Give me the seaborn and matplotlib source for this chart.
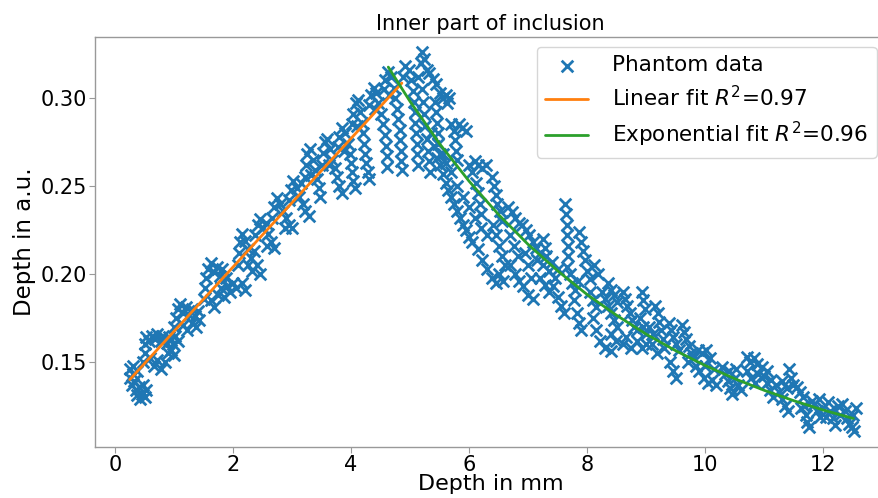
import numpy as np
import pandas as pd
import matplotlib
matplotlib.use("Agg")
import matplotlib.pyplot as plt
import seaborn as sns

rise_depth = [
    0.25, 0.26, 0.28, 0.30, 0.33, 0.35, 0.38, 0.40, 0.43, 0.46, 0.48, 0.50, 0.53, 0.30, 0.38,
    0.48, 0.50, 0.50, 0.52, 0.58, 0.62, 0.68, 0.72, 0.78, 0.82, 0.88, 0.92, 0.98, 1.02, 1.06,
    0.60, 0.66, 0.72, 0.78, 0.84, 0.90, 0.95, 1.00,
    1.00, 1.04, 1.06, 1.10, 1.15, 1.20, 1.25, 1.30, 1.35, 1.40, 1.15, 1.22, 1.30, 1.38, 1.43,
    1.50, 1.52, 1.55, 1.58, 1.62, 1.68, 1.72, 1.78, 1.82, 1.88, 1.62, 1.68, 1.75, 1.80, 1.85,
    1.90, 1.95, 2.00, 2.05, 2.15, 2.20,
    2.08, 2.10, 2.12, 2.15, 2.20, 2.25, 2.30, 2.35, 2.40, 2.45, 2.25, 2.32,
    2.38, 2.42, 2.45, 2.50, 2.55, 2.60, 2.65, 2.70, 2.58,
    2.66, 2.70, 2.74, 2.80, 2.85, 2.90, 2.95, 3.00, 2.88,
    2.95, 2.98, 3.02, 3.08, 3.12, 3.18, 3.22, 3.28, 3.15,
    3.22, 3.24, 3.26, 3.30, 3.35, 3.38, 3.42, 3.45, 3.48, 3.32,
    3.50, 3.52, 3.55, 3.60, 3.65, 3.68, 3.72, 3.76, 3.80, 3.84, 3.62,
    3.78, 3.80, 3.84, 3.90, 3.94, 3.98, 4.00, 4.02, 4.04, 4.06, 3.88,
    4.02, 4.04, 4.08, 4.12, 4.15, 4.18, 4.20, 4.22, 4.24, 4.26, 4.28, 4.30, 4.10,
    4.30, 4.34, 4.38, 4.42, 4.45, 4.50, 4.54, 4.57, 4.59, 4.60, 4.61, 4.40,
    4.55, 4.58, 4.62, 4.68, 4.72, 4.75, 4.78, 4.80, 4.82, 4.83, 4.84, 4.85, 4.86, 4.65,
]
rise_value = [
    0.146, 0.141, 0.137, 0.143, 0.139, 0.134, 0.131, 0.136, 0.129, 0.132, 0.137, 0.130, 0.134, 0.148, 0.145,
    0.150, 0.155, 0.160, 0.164, 0.162, 0.165, 0.163, 0.166, 0.162, 0.165, 0.161, 0.164, 0.160, 0.165, 0.162,
    0.152, 0.148, 0.151, 0.146, 0.150, 0.155, 0.157, 0.154,
    0.170, 0.175, 0.180, 0.183, 0.178, 0.181, 0.177, 0.180, 0.176, 0.179, 0.171, 0.168, 0.172, 0.170, 0.174,
    0.186, 0.192, 0.198, 0.203, 0.206, 0.201, 0.204, 0.199, 0.203, 0.198, 0.185, 0.181, 0.188, 0.192, 0.187,
    0.193, 0.190, 0.195, 0.192, 0.195, 0.191,
    0.205, 0.212, 0.218, 0.223, 0.219, 0.214, 0.209, 0.213, 0.205, 0.200, 0.205, 0.202,
    0.222, 0.228, 0.231, 0.226, 0.229, 0.223, 0.218, 0.215, 0.216,
    0.232, 0.238, 0.243, 0.240, 0.236, 0.232, 0.228, 0.226, 0.226,
    0.242, 0.248, 0.253, 0.249, 0.244, 0.240, 0.236, 0.233, 0.252,
    0.255, 0.262, 0.268, 0.271, 0.265, 0.259, 0.254, 0.249, 0.244, 0.256,
    0.262, 0.269, 0.275, 0.277, 0.271, 0.265, 0.260, 0.255, 0.250, 0.246, 0.262,
    0.272, 0.278, 0.283, 0.280, 0.274, 0.268, 0.263, 0.258, 0.253, 0.249, 0.270,
    0.285, 0.291, 0.297, 0.299, 0.292, 0.286, 0.280, 0.274, 0.268, 0.263, 0.258, 0.254, 0.284,
    0.296, 0.302, 0.306, 0.303, 0.297, 0.291, 0.285, 0.279, 0.273, 0.267, 0.261, 0.294,
    0.305, 0.310, 0.315, 0.312, 0.306, 0.300, 0.294, 0.288, 0.282, 0.276, 0.270, 0.264, 0.259, 0.302,
]

fall_depth = [
    4.88, 4.92, 4.98, 5.02, 5.05, 5.07, 5.08, 5.09, 5.10, 5.11, 5.12, 5.13, 5.14, 5.18, 5.20, 5.24, 5.28,
    5.20, 5.22, 5.24, 5.26, 5.28, 5.30, 5.32, 5.34,
    5.32, 5.38, 5.44, 5.50, 5.55, 5.60, 5.66, 5.62,
    5.42, 5.44, 5.46, 5.47, 5.48, 5.50,
    5.36, 5.40, 5.45, 5.50, 5.55, 5.60, 5.65, 5.70, 5.75, 5.80, 5.85, 5.90, 5.95, 6.00, 6.05,
    5.55, 5.60, 5.70, 5.80, 5.90, 6.00, 6.10, 6.20, 6.30, 6.15, 6.22, 6.30, 6.38, 6.45,
    5.70, 5.74, 5.76, 5.78, 5.80, 5.82, 5.88, 5.95,
    6.00, 6.05, 6.10, 6.15, 6.22, 6.28, 6.12, 6.15, 6.18, 6.20,
    6.38, 6.42, 6.45, 6.48, 6.52, 6.55, 6.40, 6.45, 6.50, 6.55, 6.60, 6.50, 6.58,
    6.66, 6.72, 6.78, 6.84, 6.70, 6.76, 6.82, 6.70, 6.78, 6.85,
    6.90, 6.96, 7.02, 7.08, 7.14, 6.95, 7.00, 7.05, 6.92, 7.00, 7.08,
    7.15, 7.20, 7.25, 7.30, 7.35, 7.40, 7.45, 7.50, 7.20, 7.28, 7.35, 7.42, 7.50, 7.55, 7.60,
    7.25, 7.28,
    7.62, 7.64, 7.65, 7.66, 7.67, 7.68, 7.66,
    7.70, 7.75, 7.80, 7.85, 7.78, 7.82, 7.86, 7.90,
    7.86, 7.90, 7.93, 7.97, 8.00, 8.04,
    8.05, 8.10, 8.15, 8.10, 8.15, 8.22, 8.30, 8.40, 8.12, 8.18,
    8.25, 8.30, 8.35, 8.40, 8.45, 8.50, 8.35, 8.40, 8.45, 8.50, 8.40, 8.48,
    8.60, 8.64, 8.68, 8.72, 8.76, 8.80, 8.60, 8.66, 8.75, 8.85, 8.92, 9.00,
    8.92, 8.95, 8.98, 8.90, 8.95, 9.00, 8.85,
    9.15, 9.20, 9.22, 9.25, 9.28, 9.30, 9.10, 9.18, 9.05, 9.12,
    9.38, 9.42, 9.46, 9.50, 9.55, 9.40, 9.45, 9.50,
    9.60, 9.64, 9.68, 9.72, 9.76, 9.80, 9.70, 9.84,
    9.88, 9.95, 10.02, 10.08, 9.90, 9.98, 10.05, 10.12, 10.18, 10.00, 10.15,
    10.28, 10.33, 10.38, 10.42, 10.46, 10.50, 10.55, 10.60, 10.40, 10.52,
    10.70, 10.76, 10.82, 10.88, 10.70, 10.78, 10.85, 10.90,
    10.96, 11.00, 11.05, 11.10, 11.15, 11.05, 11.12,
    11.20, 11.25, 11.30, 11.35, 11.40, 11.30, 11.38, 11.42, 11.45, 11.48,
    11.55, 11.60, 11.65, 11.68, 11.70, 11.72, 11.75, 11.62, 11.80,
    11.85, 11.90, 11.95, 12.00, 12.05, 11.92,
    12.08, 12.12, 12.16, 12.20, 12.25, 12.28,
    12.32, 12.36, 12.40, 12.44, 12.48, 12.52, 12.55, 12.50,
]
fall_value = [
    0.312, 0.318, 0.316, 0.310, 0.304, 0.298, 0.292, 0.286, 0.280, 0.274, 0.268, 0.262, 0.312, 0.320, 0.326, 0.322, 0.316,
    0.305, 0.298, 0.291, 0.284, 0.277, 0.270, 0.264, 0.258,
    0.314, 0.311, 0.308, 0.303, 0.300, 0.302, 0.300, 0.297,
    0.298, 0.292, 0.286, 0.280, 0.274, 0.268,
    0.280, 0.273, 0.266, 0.262, 0.257, 0.252, 0.248, 0.244, 0.240, 0.236, 0.232, 0.228, 0.225, 0.221, 0.218,
    0.268, 0.263, 0.258, 0.250, 0.244, 0.238, 0.232, 0.226, 0.222, 0.214, 0.208, 0.203, 0.198, 0.195,
    0.285, 0.281, 0.276, 0.270, 0.265, 0.285, 0.283, 0.281,
    0.262, 0.258, 0.264, 0.262, 0.260, 0.262, 0.252, 0.246, 0.240, 0.234,
    0.255, 0.250, 0.245, 0.240, 0.236, 0.230, 0.228, 0.222, 0.216, 0.210, 0.205, 0.200, 0.196,
    0.238, 0.235, 0.232, 0.229, 0.222, 0.216, 0.210, 0.205, 0.200, 0.196,
    0.228, 0.225, 0.222, 0.218, 0.215, 0.212, 0.205, 0.198, 0.193, 0.188, 0.186,
    0.208, 0.212, 0.205, 0.210, 0.202, 0.207, 0.198, 0.203, 0.198, 0.194, 0.190, 0.193, 0.187, 0.182, 0.178,
    0.220, 0.215,
    0.240, 0.234, 0.228, 0.222, 0.216, 0.210, 0.204,
    0.200, 0.195, 0.191, 0.196, 0.185, 0.178, 0.172, 0.168,
    0.224, 0.218, 0.213, 0.208, 0.202, 0.197,
    0.190, 0.185, 0.181, 0.175, 0.168, 0.162, 0.158, 0.156, 0.205, 0.200,
    0.190, 0.186, 0.182, 0.178, 0.174, 0.170, 0.195, 0.191, 0.188, 0.184, 0.166, 0.162,
    0.190, 0.186, 0.182, 0.178, 0.174, 0.170, 0.160, 0.164, 0.158, 0.162, 0.158, 0.160,
    0.190, 0.185, 0.180, 0.175, 0.170, 0.166, 0.168,
    0.182, 0.178, 0.173, 0.168, 0.163, 0.158, 0.160, 0.155, 0.170, 0.166,
    0.172, 0.168, 0.164, 0.160, 0.157, 0.150, 0.145, 0.141,
    0.171, 0.167, 0.163, 0.159, 0.155, 0.152, 0.150, 0.148,
    0.157, 0.155, 0.157, 0.152, 0.145, 0.141, 0.138, 0.140, 0.137, 0.148, 0.146,
    0.147, 0.143, 0.139, 0.135, 0.132, 0.141, 0.137, 0.134, 0.145, 0.146,
    0.153, 0.150, 0.152, 0.149, 0.145, 0.141, 0.138, 0.143,
    0.147, 0.142, 0.138, 0.134, 0.130, 0.145, 0.140,
    0.137, 0.133, 0.129, 0.125, 0.122, 0.139, 0.135, 0.146, 0.141, 0.137,
    0.136, 0.133, 0.130, 0.125, 0.120, 0.116, 0.113, 0.124, 0.128,
    0.126, 0.122, 0.119, 0.124, 0.119, 0.129,
    0.127, 0.122, 0.118, 0.114, 0.125, 0.120,
    0.126, 0.122, 0.118, 0.115, 0.113, 0.111, 0.124, 0.120,
]

# fitted curves as they appear in the reference
linear_depth = [0.25, 2.5, 4.86]
linear_value = [0.140, 0.2223, 0.3085]
exp_depth = [4.63, 5.0, 5.5, 6.0, 6.5, 7.0, 7.5, 8.0, 8.5, 9.0, 9.5, 10.0, 10.5, 11.0, 11.5, 12.0, 12.51]
exp_value = [0.3176, 0.298, 0.274, 0.2527, 0.2337, 0.2168, 0.2018, 0.1883, 0.1765, 0.1658,
             0.1564, 0.148, 0.1405, 0.1339, 0.128, 0.1227, 0.1179]

phantom = pd.DataFrame({"depth": rise_depth + fall_depth, "value": rise_value + fall_value})

sns.set_style("ticks")
plt.rcParams['font.family'] = ['DejaVu Sans']
plt.rcParams['text.color'] = 'black'
plt.rcParams['axes.labelcolor'] = 'black'

fig = plt.figure(figsize=(8.79, 4.98), dpi=100)
# the reference is cropped on the right, so the axes run a little past the edge
ax = fig.add_axes([0.108, 0.1024, 0.9005, 0.8233])

sns.scatterplot(data=phantom, x="depth", y="value", marker="x", s=70, linewidth=2.0,
                color="#1f77b4", label="Phantom data", ax=ax, zorder=2)
sns.lineplot(x=linear_depth, y=linear_value, color="#ff7f0e", linewidth=2,
             label=r"Linear fit $R^2$=0.97", sort=False, estimator=None, ax=ax, zorder=3)
sns.lineplot(x=exp_depth, y=exp_value, color="#2ca02c", linewidth=2,
             label=r"Exponential fit $R^2$=0.96", sort=False, estimator=None, ax=ax, zorder=3)

ax.set_xlim(-0.34, 13.07)
ax.set_ylim(0.1017, 0.3347)
ax.set_xticks([0, 2, 4, 6, 8, 10, 12])
ax.set_yticks([0.15, 0.20, 0.25, 0.30])
ax.set_yticklabels(["0.15", "0.20", "0.25", "0.30"])

for side in ["top", "right", "left", "bottom"]:
    ax.spines[side].set_visible(True)
    ax.spines[side].set_color("#999999")
    ax.spines[side].set_linewidth(1.0)
ax.tick_params(colors="#999999", labelcolor="black", labelsize=15, length=4, pad=2)

ax.set_title("Inner part of inclusion", fontsize=15, pad=5)
ax.set_xlabel("Depth in mm", fontsize=16, labelpad=-1)
ax.set_ylabel("Depth in a.u.", fontsize=16.5, labelpad=3)

ax.legend(loc="upper right", fontsize=15.5, frameon=True, handletextpad=1.1,
          borderaxespad=0.45, labelspacing=0.45)

fig.savefig("out.png", dpi=100)
